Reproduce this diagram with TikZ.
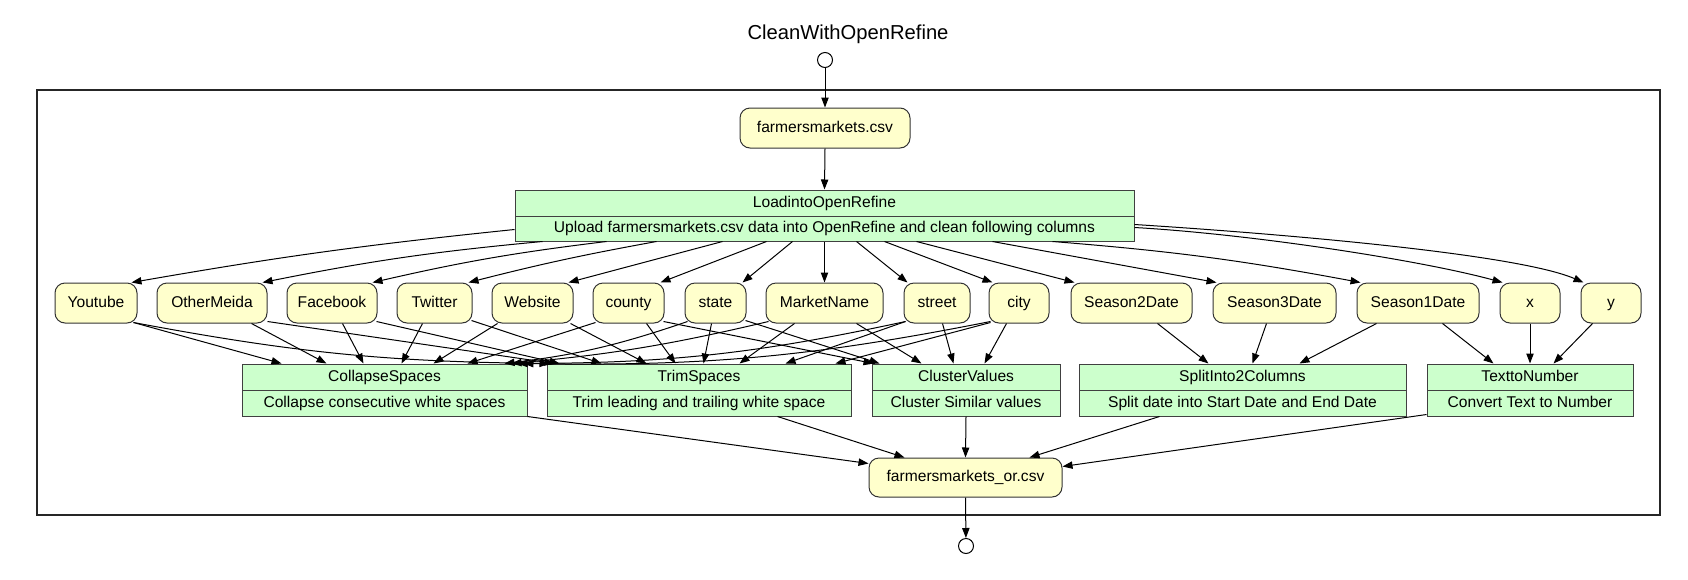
\documentclass[tikz,border=0pt]{standalone}
\usepackage{fontspec}
\setmainfont{Liberation Sans}
\usetikzlibrary{arrows.meta,calc}
\definecolor{ylw}{HTML}{FFFFCC}
\definecolor{grn}{HTML}{CCFFCC}
\begin{document}
\begin{tikzpicture}[x=0.75pt,y=-0.75pt,
  txt/.style={font=\fontsize{11.7}{14}\selectfont, text height=8.4pt, text depth=2.4pt},
  col/.style={txt, draw=black!80, fill=ylw, rounded corners=7.5pt, inner sep=0pt, minimum height=40*0.75pt, line width=0.75pt},
  proc/.style={txt, draw=black!75, fill=grn, inner sep=0pt, minimum height=26*0.75pt, line width=0.75pt},
  arr/.style={-{Triangle[length=7.5pt,width=5.5pt]}, line width=0.75pt},
  dot/.style={circle, draw=black, fill=white, minimum size=15*0.75pt, inner sep=0pt, line width=0.75pt}]
\fill[white] (0,0) rectangle (1688,579);
\useasboundingbox (0,0) rectangle (1688,579);

% title, start and frame
\node[font=\fontsize{15.15}{18}\selectfont, inner sep=0pt] (title) at (848,34) {CleanWithOpenRefine};
\node[dot] (start) at (825,60) {};
\node[draw=black!85, line width=1.5pt, minimum width=1623*0.75pt, minimum height=425*0.75pt, inner sep=0pt] (frame) at (848.5,302.5) {};

% input and loader
\node[col, minimum width=170*0.75pt] (csv) at (825,128) {farmersmarkets.csv};
\node[proc, minimum width=619*0.75pt] (loadT) at (824.5,203) {LoadintoOpenRefine};
\node[proc, minimum width=619*0.75pt, minimum height=25*0.75pt] (loadB) at (824.5,228.5) {Upload farmersmarkets.csv data into OpenRefine and clean following columns};

% columns
\node[col, minimum width=82*0.75pt]  (youtube)     at (96,303)    {Youtube};
\node[col, minimum width=110*0.75pt] (othermeida)  at (212,303)   {OtherMeida};
\node[col, minimum width=90*0.75pt]  (facebook)    at (332,303)   {Facebook};
\node[col, minimum width=75*0.75pt]  (twitter)     at (434.5,303) {Twitter};
\node[col, minimum width=81*0.75pt]  (website)     at (532.5,303) {Website};
\node[col, minimum width=71*0.75pt]  (county)      at (628.5,303) {county};
\node[col, minimum width=61*0.75pt]  (state)       at (715.5,303) {state};
\node[col, minimum width=117*0.75pt] (marketname)  at (824.5,303) {MarketName};
\node[col, minimum width=66*0.75pt]  (street)      at (937,303)   {street};
\node[col, minimum width=60*0.75pt]  (city)        at (1019,303)  {city};
\node[col, minimum width=121*0.75pt] (seasontwo)   at (1131.5,303) {Season2Date};
\node[col, minimum width=123*0.75pt] (seasonthree) at (1274.5,303) {Season3Date};
\node[col, minimum width=122*0.75pt] (seasonone)   at (1418,303)  {Season1Date};
\node[col, minimum width=60*0.75pt]  (xcol)        at (1530,303)  {x};
\node[col, minimum width=60*0.75pt]  (ycol)        at (1611,303)  {y};

% processes
\node[proc, minimum width=285*0.75pt] (collapseT) at (384.5,377) {CollapseSpaces};
\node[proc, minimum width=285*0.75pt] (collapseB) at (384.5,403) {Collapse consecutive white spaces};
\node[proc, minimum width=304*0.75pt] (trimT) at (699,377) {TrimSpaces};
\node[proc, minimum width=304*0.75pt] (trimB) at (699,403) {Trim leading and trailing white space};
\node[proc, minimum width=188*0.75pt] (clusterT) at (966,377) {ClusterValues};
\node[proc, minimum width=188*0.75pt] (clusterB) at (966,403) {Cluster Similar values};
\node[proc, minimum width=327*0.75pt] (splitT) at (1242.5,377) {SplitInto2Columns};
\node[proc, minimum width=327*0.75pt] (splitB) at (1242.5,403) {Split date into Start Date and End Date};
\node[proc, minimum width=206*0.75pt] (textT) at (1530,377) {TexttoNumber};
\node[proc, minimum width=206*0.75pt] (textB) at (1530,403) {Convert Text to Number};

% output
\node[col, minimum width=193*0.75pt, minimum height=39*0.75pt] (out) at (965.5,477.5) {farmersmarkets\_or.csv};
\node[dot] (finish) at (966,546) {};

% top connectors
\draw[arr] (start) -- (csv.north);
\draw[arr] (csv.south) -- (loadT.north);

% loader to columns
\draw[arr] ($(loadB.south west)+(0,-12)$) to[bend right=2] ($(youtube.north east)+(-6,0)$);
\draw[arr] ($(loadB.south west)+(28,0)$) to[bend right=3] ($(othermeida.north east)+(-5,0)$);
\draw[arr] ($(loadB.south west)+(92,0)$) to[bend right=3] ($(facebook.north east)+(-5,0)$);
\draw[arr] ($(loadB.south west)+(142,0)$) to[bend right=2] ($(twitter.north east)+(-4,0)$);
\draw[arr] ($(loadB.south west)+(208,0)$) -- ($(website.north east)+(-5,0)$);
\draw[arr] ($(loadB.south west)+(252,0)$) -- ($(county.north east)+(-4,0)$);
\draw[arr] ($(loadB.south west)+(278,0)$) -- ($(state.north east)+(-4,0)$);
\draw[arr] (loadB.south) -- (marketname.north);
\draw[arr] ($(loadB.south west)+(342,0)$) -- ($(street.north west)+(4,0)$);
\draw[arr] ($(loadB.south west)+(370,0)$) -- ($(city.north west)+(4,0)$);
\draw[arr] ($(loadB.south west)+(402,0)$) -- ($(seasontwo.north west)+(4,0)$);
\draw[arr] ($(loadB.south west)+(478,0)$) -- ($(seasonthree.north west)+(4,0)$);
\draw[arr] ($(loadB.south west)+(538,0)$) to[bend left=3] ($(seasonone.north west)+(4,0)$);
\draw[arr] ($(loadB.north east)+(0,12)$) .. controls (1250,234) and (1420,260) .. ($(xcol.north west)+(3,0)$);
\draw[arr] ($(loadB.north east)+(0,9)$) .. controls (1300,235) and (1520,255) .. ($(ycol.north west)+(3,0)$);

% columns to CollapseSpaces
\draw[arr] ($(youtube.south east)+(-4,-1)$) -- ($(collapseT.north west)+(40,0)$);
\draw[arr] ($(othermeida.south west)+(95,0)$) -- ($(collapseT.north west)+(85,0)$);
\draw[arr] ($(facebook.south west)+(56,0)$) -- ($(collapseT.north west)+(122,0)$);
\draw[arr] ($(twitter.south west)+(26,0)$) -- ($(collapseT.north west)+(160,0)$);
\draw[arr] ($(website.south west)+(6,0)$) -- ($(collapseT.north west)+(192,0)$);
\draw[arr] ($(county.south west)+(3,-1)$) -- ($(collapseT.north west)+(226,0)$);
\draw[arr] ($(state.south west)+(3,-2)$) to[bend left=6] ($(collapseT.north west)+(263,0)$);
\draw[arr] ($(marketname.south west)+(3,-2)$) to[bend left=4] ($(collapseT.north west)+(270,0)$);
\draw[arr] ($(street.south west)+(2,-2)$) to[bend left=6] ($(collapseT.north west)+(276,0)$);
\draw[arr] ($(city.south west)+(2,-2)$) to[bend left=6] ($(collapseT.north west)+(282,0)$);

% columns to TrimSpaces
\draw[arr] ($(youtube.south east)+(-4,-1)$) to[bend right=5] ($(trimT.north west)+(3,0)$);
\draw[arr] ($(othermeida.south east)+(0,-2)$) -- ($(trimT.north west)+(8,0)$);
\draw[arr] ($(facebook.south east)+(-1,-2)$) -- ($(trimT.north west)+(13,0)$);
\draw[arr] ($(twitter.south east)+(-1,-3)$) -- ($(trimT.north west)+(55,0)$);
\draw[arr] ($(website.south east)+(-3,0)$) -- ($(trimT.north west)+(100,0)$);
\draw[arr] ($(county.south west)+(54,0)$) -- ($(trimT.north west)+(129,0)$);
\draw[arr] ($(state.south west)+(27,0)$) -- ($(trimT.north west)+(157,0)$);
\draw[arr] ($(marketname.south west)+(29,0)$) -- ($(trimT.north west)+(193,0)$);
\draw[arr] ($(street.south west)+(2,-2)$) -- ($(trimT.north west)+(239,0)$);
\draw[arr] ($(city.south west)+(2,-1)$) -- ($(trimT.north west)+(289,0)$);

% columns to ClusterValues
\draw[arr] ($(county.south east)+(-1,-2)$) -- ($(clusterT.north west)+(2,0)$);
\draw[arr] ($(state.south east)+(-1,-3)$) -- ($(clusterT.north west)+(8,0)$);
\draw[arr] ($(marketname.south west)+(91,0)$) -- ($(clusterT.north west)+(50,0)$);
\draw[arr] ($(street.south west)+(39,0)$) -- ($(clusterT.north west)+(82,0)$);
\draw[arr] ($(city.south west)+(18,0)$) -- ($(clusterT.north west)+(113,0)$);

% dates and coordinates
\draw[arr] ($(seasontwo.south west)+(87,0)$) -- ($(splitT.north west)+(130,0)$);
\draw[arr] ($(seasonthree.south west)+(54,0)$) -- ($(splitT.north west)+(174,0)$);
\draw[arr] ($(seasonone.south west)+(20,0)$) -- ($(splitT.north west)+(221,0)$);
\draw[arr] ($(seasonone.south west)+(86,0)$) -- ($(textT.north west)+(67,0)$);
\draw[arr] (xcol.south) -- (textT.north);
\draw[arr] ($(ycol.south west)+(12,0)$) -- ($(textT.north west)+(127,0)$);

% processes to output
\draw[arr] (collapseB.south east) -- ($(out.west)+(0,-14)$);
\draw[arr] ($(trimB.south west)+(231,0)$) -- ($(out.north west)+(36,0)$);
\draw[arr] (clusterB.south) -- (out.north);
\draw[arr] ($(splitB.south west)+(81,0)$) -- ($(out.north west)+(161,0)$);
\draw[arr] ($(textB.south west)+(0,-2)$) -- ($(out.east)+(0,-11)$);
\draw[arr] (out.south) -- (finish);
\end{tikzpicture}
\end{document}
